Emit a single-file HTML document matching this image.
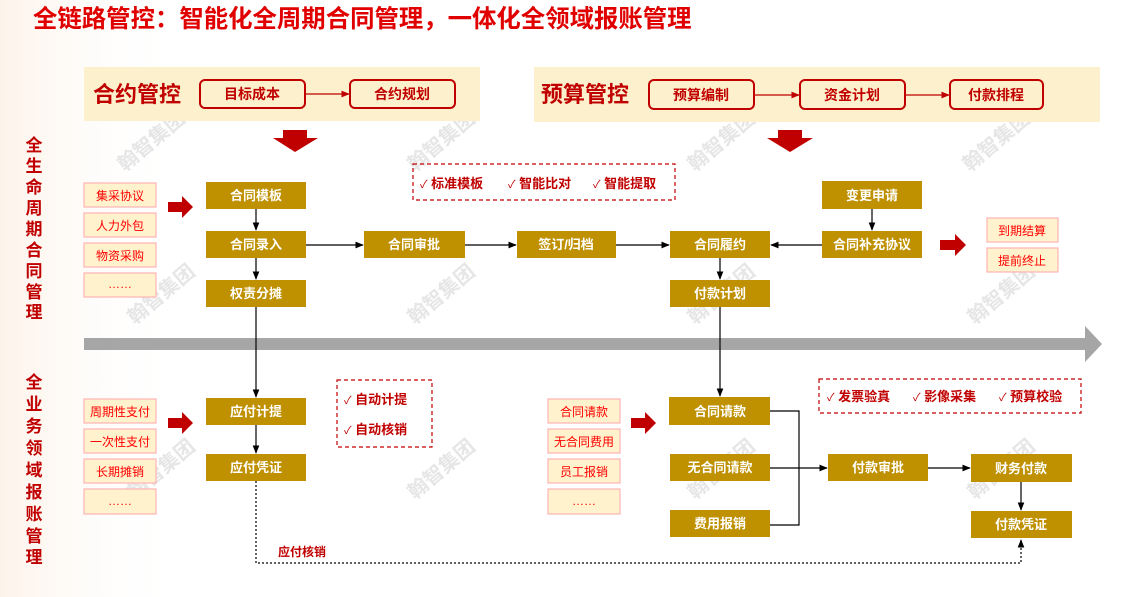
<!DOCTYPE html>
<html><head><meta charset="utf-8"><style>
html,body{margin:0;padding:0;background:#fff}
svg{display:block;font-family:"Liberation Sans","Noto Sans CJK SC",sans-serif}
</style></head><body>
<svg width="1127" height="597" viewBox="0 0 1127 597" xmlns="http://www.w3.org/2000/svg">
<defs>
<marker id="a" viewBox="0 0 10 10" refX="9" refY="5" markerWidth="7" markerHeight="7" orient="auto"><path d="M0,1 L10,5 L0,9 z" fill="#000"/></marker>
<marker id="ar" viewBox="0 0 10 10" refX="9" refY="5" markerWidth="7" markerHeight="7" orient="auto"><path d="M0,1 L10,5 L0,9 z" fill="#c00000"/></marker>
<linearGradient id="bg" x1="0" y1="0" x2="1" y2="0"><stop offset="0" stop-color="#fdf3ea"/><stop offset="1" stop-color="#fff" stop-opacity="0"/></linearGradient>
</defs>
<rect x="0" y="0" width="180" height="597" fill="url(#bg)"/>
<g fill="#e6e6e6" font-size="20" font-weight="bold">
<text transform="translate(125,172) rotate(-40)">翰智集团</text>
<text transform="translate(415,172) rotate(-40)">翰智集团</text>
<text transform="translate(695,172) rotate(-40)">翰智集团</text>
<text transform="translate(970,172) rotate(-40)">翰智集团</text>
<text transform="translate(135,325) rotate(-40)">翰智集团</text>
<text transform="translate(415,325) rotate(-40)">翰智集团</text>
<text transform="translate(695,325) rotate(-40)">翰智集团</text>
<text transform="translate(975,325) rotate(-40)">翰智集团</text>
<text transform="translate(135,500) rotate(-40)">翰智集团</text>
<text transform="translate(415,500) rotate(-40)">翰智集团</text>
<text transform="translate(695,500) rotate(-40)">翰智集团</text>
<text transform="translate(975,500) rotate(-40)">翰智集团</text>
</g>
<text x="33" y="27" font-size="24.4" font-weight="bold" fill="#e00000">全链路管控：智能化全周期合同管理，一体化全领域报账管理</text>
<rect x="84" y="67" width="396" height="54" fill="#fdf0cc"/>
<rect x="534" y="67" width="566" height="55" fill="#fdf0cc"/>
<text x="93" y="102" font-size="22" font-weight="bold" fill="#c00000">合约管控</text>
<text x="541" y="102" font-size="22" font-weight="bold" fill="#c00000">预算管控</text>
<g fill="none" stroke="#c00000" stroke-width="2">
<rect x="200" y="80" width="105" height="28" rx="5"/>
<rect x="350" y="80" width="105" height="28" rx="5"/>
<rect x="649" y="80" width="105" height="29" rx="5"/>
<rect x="800" y="80" width="105" height="29" rx="5"/>
<rect x="950" y="80" width="93" height="29" rx="5"/>
</g>
<g stroke="#c00000" stroke-width="1.2" marker-end="url(#ar)">
<line x1="305" y1="94" x2="349" y2="94"/>
<line x1="754" y1="95" x2="799" y2="95"/>
<line x1="905" y1="95" x2="949" y2="95"/>
</g>
<g font-size="14" font-weight="bold" fill="#c00000" text-anchor="middle">
<text x="252" y="99">目标成本</text><text x="402" y="99">合约规划</text>
<text x="701" y="100">预算编制</text><text x="852" y="100">资金计划</text><text x="996" y="100">付款排程</text>
</g>
<path d="M283,130 H307 V138 H318 L295,152 L273,138 H283 Z" fill="#c00000"/>
<path d="M778,130 H802 V138 H813 L790,152 L767,138 H778 Z" fill="#c00000"/>
<g font-size="17" font-weight="bold" fill="#c00000" text-anchor="middle">
<text x="34" y="151">全</text><text x="34" y="172">生</text><text x="34" y="193">命</text><text x="34" y="214">周</text><text x="34" y="235">期</text><text x="34" y="256">合</text><text x="34" y="277">同</text><text x="34" y="298">管</text><text x="34" y="318">理</text>
<text x="34" y="388">全</text><text x="34" y="410">业</text><text x="34" y="432">务</text><text x="34" y="454">领</text><text x="34" y="476">域</text><text x="34" y="498">报</text><text x="34" y="520">账</text><text x="34" y="542">管</text><text x="34" y="563">理</text>
</g>
<g fill="#fff2cc" stroke="#ffb3b3" stroke-width="1.2">
<rect x="84" y="183" width="72" height="24"/><rect x="84" y="213" width="72" height="24"/><rect x="84" y="243" width="72" height="24"/><rect x="84" y="273" width="72" height="24"/>
<rect x="84" y="399" width="72" height="24"/><rect x="84" y="429" width="72" height="24"/><rect x="84" y="459" width="72" height="24"/><rect x="84" y="489" width="72" height="25"/>
<rect x="548" y="399" width="72" height="24"/><rect x="548" y="429" width="72" height="24"/><rect x="548" y="459" width="72" height="24"/><rect x="548" y="489" width="72" height="25"/>
<rect x="987" y="218" width="71" height="24"/><rect x="987" y="248" width="71" height="24"/>
</g>
<g font-size="12" fill="#ff0000" text-anchor="middle">
<text x="120" y="200">集采协议</text><text x="120" y="230">人力外包</text><text x="120" y="260">物资采购</text><text x="120" y="288">……</text>
<text x="120" y="416">周期性支付</text><text x="120" y="446">一次性支付</text><text x="120" y="476">长期摊销</text><text x="120" y="505">……</text>
<text x="584" y="416">合同请款</text><text x="584" y="446">无合同费用</text><text x="584" y="476">员工报销</text><text x="584" y="505">……</text>
<text x="1022" y="235">到期结算</text><text x="1022" y="265">提前终止</text>
</g>
<g fill="#c00000">
<path d="M168,202 H182 V196 L193,207 L182,218 V212 H168 Z"/>
<path d="M940,240 H955 V234 L966,245 L955,256 V250 H940 Z"/>
<path d="M168,418 H182 V412 L193,423 L182,434 V428 H168 Z"/>
<path d="M631,418 H645 V412 L656,423 L645,434 V428 H631 Z"/>
</g>
<rect x="84" y="338" width="1001" height="12" fill="#a6a6a6"/>
<path d="M1085,326 L1102,344 L1085,362 Z" fill="#a6a6a6"/>
<g fill="none" stroke="#c00000" stroke-width="1.2" stroke-dasharray="4,3">
<rect x="413" y="164" width="262" height="36"/>
<rect x="337" y="380" width="95" height="67"/>
<rect x="819" y="379" width="262" height="34"/>
</g>
<g font-size="13" font-weight="bold" fill="#c00000">
<text x="420" y="188"><tspan font-weight="normal" font-size="11">✓</tspan> 标准模板</text>
<text x="508" y="188"><tspan font-weight="normal" font-size="11">✓</tspan> 智能比对</text>
<text x="593" y="188"><tspan font-weight="normal" font-size="11">✓</tspan> 智能提取</text>
<text x="344" y="404"><tspan font-weight="normal" font-size="11">✓</tspan> 自动计提</text>
<text x="344" y="434"><tspan font-weight="normal" font-size="11">✓</tspan> 自动核销</text>
<text x="827" y="401"><tspan font-weight="normal" font-size="11">✓</tspan> 发票验真</text>
<text x="913" y="401"><tspan font-weight="normal" font-size="11">✓</tspan> 影像采集</text>
<text x="999" y="401"><tspan font-weight="normal" font-size="11">✓</tspan> 预算校验</text>
</g>
<g stroke="#000" stroke-width="1.2" fill="none">
<line x1="256" y1="209" x2="256" y2="230" marker-end="url(#a)"/>
<line x1="256" y1="258" x2="256" y2="279" marker-end="url(#a)"/>
<line x1="306" y1="245" x2="363" y2="245" marker-end="url(#a)"/>
<line x1="465" y1="245" x2="516" y2="245" marker-end="url(#a)"/>
<line x1="616" y1="245" x2="669" y2="245" marker-end="url(#a)"/>
<line x1="822" y1="245" x2="771" y2="245" marker-end="url(#a)"/>
<line x1="872" y1="209" x2="872" y2="230" marker-end="url(#a)"/>
<line x1="720" y1="258" x2="720" y2="279" marker-end="url(#a)"/>
<line x1="256" y1="307" x2="256" y2="397" marker-end="url(#a)"/>
<line x1="256" y1="425" x2="256" y2="453" marker-end="url(#a)"/>
<line x1="720" y1="307" x2="720" y2="396" marker-end="url(#a)"/>
<polyline points="770,411 799,411 799,525 770,525"/>
<line x1="770" y1="468" x2="827" y2="468" marker-end="url(#a)"/>
<line x1="928" y1="468" x2="970" y2="468" marker-end="url(#a)"/>
<line x1="1021" y1="482" x2="1021" y2="510" marker-end="url(#a)"/>
<polyline points="256,481 256,563 1021,563 1021,540" stroke-dasharray="2,2" marker-end="url(#a)"/>
</g>
<text x="278" y="556" font-size="12" font-weight="bold" fill="#c00000">应付核销</text>
<g fill="#bf9000">
<rect x="206" y="182" width="100" height="27"/><rect x="206" y="231" width="100" height="27"/><rect x="206" y="280" width="100" height="27"/>
<rect x="364" y="231" width="101" height="27"/><rect x="517" y="231" width="99" height="27"/>
<rect x="670" y="231" width="100" height="27"/><rect x="670" y="280" width="100" height="27"/>
<rect x="822" y="181" width="100" height="28"/><rect x="822" y="231" width="100" height="27"/>
<rect x="206" y="398" width="100" height="27"/><rect x="206" y="454" width="100" height="27"/>
<rect x="669" y="397" width="101" height="28"/><rect x="670" y="454" width="100" height="27"/><rect x="670" y="510" width="100" height="27"/>
<rect x="828" y="454" width="100" height="27"/><rect x="971" y="454" width="101" height="28"/><rect x="971" y="511" width="101" height="27"/>
</g>
<g font-size="13" font-weight="bold" fill="#fff" text-anchor="middle">
<text x="256" y="200">合同模板</text><text x="256" y="249">合同录入</text><text x="256" y="298">权责分摊</text>
<text x="414" y="249">合同审批</text><text x="566" y="249">签订/归档</text>
<text x="720" y="249">合同履约</text><text x="720" y="298">付款计划</text>
<text x="872" y="200">变更申请</text><text x="872" y="249">合同补充协议</text>
<text x="256" y="416">应付计提</text><text x="256" y="472">应付凭证</text>
<text x="720" y="416">合同请款</text><text x="720" y="472">无合同请款</text><text x="720" y="528">费用报销</text>
<text x="878" y="472">付款审批</text><text x="1021" y="473">财务付款</text><text x="1021" y="529">付款凭证</text>
</g>
</svg>
</body></html>
